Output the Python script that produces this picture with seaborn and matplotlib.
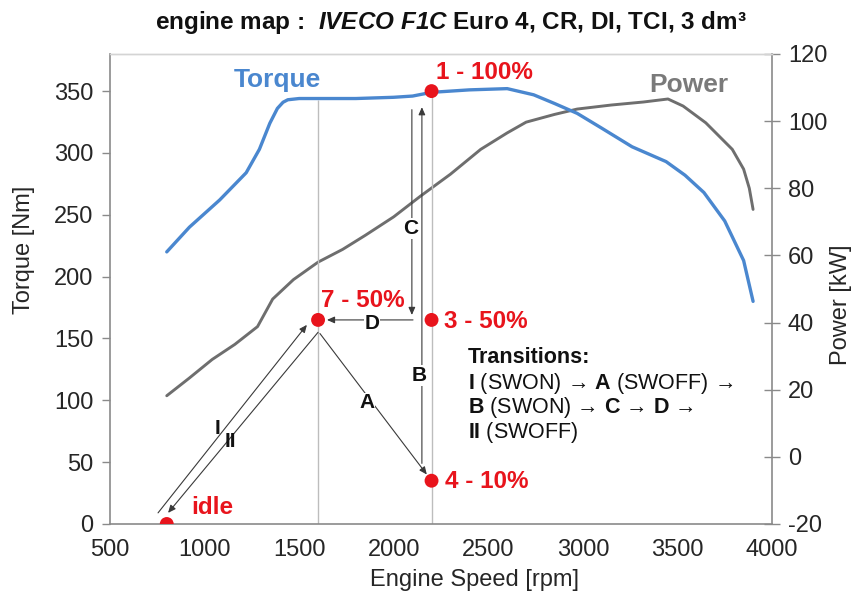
import matplotlib
matplotlib.use("Agg")
import matplotlib.pyplot as plt
import seaborn as sns
import pandas as pd

# ---------------- data ----------------
torque_rpm = [800, 920, 1080, 1220, 1290, 1345, 1385, 1415, 1440, 1500, 1800, 2000, 2100, 2200,
              2400, 2600, 2740, 2850, 2970, 3100, 3260, 3440, 3540, 3640, 3750, 3850, 3900]
torque_nm = [220, 240, 262, 284, 303, 324, 336, 341, 343, 344, 344, 345, 346, 349,
             351, 352, 347, 340, 332, 320, 305, 293, 282, 268, 245, 213, 180]

power_rpm = [800, 920, 1040, 1160, 1280, 1360, 1470, 1600, 1730, 1850, 2000, 2140, 2300, 2460,
             2600, 2700, 2850, 2970, 3150, 3320, 3450, 3530, 3650, 3790, 3850, 3880, 3900]
power_kw = [18.2, 23.5, 29.0, 33.5, 38.8, 47.0, 52.8, 58.0, 61.8, 66.0, 71.5, 77.6, 84.2, 91.6,
            96.5, 99.7, 102.0, 103.6, 104.8, 105.7, 106.6, 104.5, 99.5, 91.6, 85.7, 80.0, 73.7]

point_names = ["idle", "7 - 50%", "3 - 50%", "4 - 10%", "1 - 100%"]
point_rpm = [800, 1600, 2200, 2200, 2200]
point_nm = [0, 165, 165, 35, 350]
# label anchor (rpm, Nm) for each point label
point_label_pos = [(930, 13), (1618, 181), (2268, 164), (2272, 34), (2226, 365)]

# transitions: (label, start(rpm,Nm), end(rpm,Nm), label position)
transitions = [
    ("I",  (754, 9),     (1541, 161), (1066, 77)),
    ("II", (1600, 155),  (807, 9),    (1134, 67)),
    ("A",  (1610, 154),  (2175, 40),  (1858, 98)),
    ("B",  (2149, 49),   (2149, 337), (2133, 120)),
    ("C",  (2096, 335),  (2096, 169), (2090, 239)),
    ("D",  (2102, 165),  (1647, 165), (1884, 162)),
]

ref_lines_rpm = [1600, 2200]
ref_lines_top = [343, 349]

x_ticks = [500, 1000, 1500, 2000, 2500, 3000, 3500, 4000]
y_ticks = [0, 50, 100, 150, 200, 250, 300, 350]
y2_ticks = [-20, 0, 20, 40, 60, 80, 100, 120]

# ---------------- style ----------------
sns.set_style("white")
plt.rcParams["font.family"] = ["Liberation Sans", "DejaVu Sans"]
plt.rcParams["axes.unicode_minus"] = False
plt.rcParams["mathtext.fontset"] = "custom"
plt.rcParams["mathtext.rm"] = "Liberation Sans"
plt.rcParams["mathtext.bf"] = "Liberation Sans:bold"
plt.rcParams["mathtext.it"] = "Liberation Sans:italic"
plt.rcParams["mathtext.bfit"] = "Liberation Sans:italic:bold"

BLUE = "#4a87cf"
GRAY = "#6e6e6e"
RED = "#e8141c"
SPINE = "#8a8a8a"
TXT = "#262626"

fig = plt.figure(figsize=(8.57, 6.0), dpi=100)
ax = fig.add_axes([110 / 857, 1 - 524 / 600, 662 / 857, 470 / 600])
ax2 = ax.twinx()

tq = pd.DataFrame({"rpm": torque_rpm, "torque": torque_nm})
pw = pd.DataFrame({"rpm": power_rpm, "power": power_kw})
pts = pd.DataFrame({"rpm": point_rpm, "torque": point_nm, "name": point_names})

# reference vertical lines
ax.vlines(ref_lines_rpm, 0, ref_lines_top, colors="#bdbdbd", lw=1.0, zorder=1)

sns.lineplot(data=pw, x="rpm", y="power", ax=ax2, color=GRAY, lw=2.1, zorder=2)
sns.lineplot(data=tq, x="rpm", y="torque", ax=ax, color=BLUE, lw=2.4, zorder=3)

# ensure torque axis drawn above power axis
ax.set_zorder(ax2.get_zorder() + 1)
ax.patch.set_visible(False)

# transitions arrows
for lab, s, e, lp in transitions:
    ax.annotate("", xy=e, xytext=s,
                arrowprops=dict(arrowstyle="-|>,head_length=0.45,head_width=0.2",
                                color="#3a3a3a", lw=0.8, shrinkA=0, shrinkB=0),
                zorder=4)
    ax.text(lp[0], lp[1], lab, fontsize=15, fontweight="bold", color="#111111",
            ha="center", va="center", zorder=6,
            bbox=dict(facecolor="white", edgecolor="none", pad=0.5) if lab in ("C", "B", "D", "A") else None)

sns.scatterplot(data=pts, x="rpm", y="torque", ax=ax, color=RED, s=100,
                edgecolor="none", zorder=7, legend=False)
for name, (lx, ly) in zip(point_names, point_label_pos):
    ax.text(lx, ly, name, color=RED, fontsize=17.5, fontweight="bold",
            ha="left", va="center", zorder=8)

# curve labels
ax.text(1383, 359, "Torque", color=BLUE, fontsize=19, fontweight="bold",
        ha="center", va="center")
ax.text(3561, 355, "Power", color="#7a7a7a", fontsize=19, fontweight="bold",
        ha="center", va="center")

# transitions text
tx = 2392
ax.text(tx, 135, "Transitions:", fontsize=15.5, fontweight="bold", color="#111111",
        ha="left", va="center")
ax.text(tx, 114, r"$\mathbf{I}$ (SWON) → $\mathbf{A}$ (SWOFF) →", fontsize=15.5,
        color="#111111", ha="left", va="center")
ax.text(tx, 94, r"$\mathbf{B}$ (SWON) → $\mathbf{C}$ → $\mathbf{D}$ →", fontsize=15.5,
        color="#111111", ha="left", va="center")
ax.text(tx, 74, r"$\mathbf{II}$ (SWOFF)", fontsize=15.5,
        color="#111111", ha="left", va="center")

# axes limits & ticks
ax.set_xlim(500, 4000)
ax.set_ylim(0, 380)
ax2.set_ylim(-20, 120)
ax.set_xticks(x_ticks)
ax.set_yticks(y_ticks)
ax2.set_yticks(y2_ticks)
ax.tick_params(axis="both", labelsize=17, colors=SPINE, labelcolor=TXT,
               length=6, width=1.0, direction="out", pad=5)
ax.tick_params(axis="y", pad=6)
ax2.tick_params(axis="y", labelsize=17, colors=SPINE, labelcolor=TXT,
                length=11, width=1.0, direction="inout", pad=6)

for a in (ax, ax2):
    for side in ("left", "bottom", "right"):
        a.spines[side].set_color(SPINE)
        a.spines[side].set_linewidth(1.2)
    a.spines["top"].set_color("#d4d4d4")
    a.spines["top"].set_linewidth(1.0)
ax.spines["right"].set_visible(False)
ax2.spines["left"].set_visible(False)
ax2.spines["bottom"].set_visible(False)

ax.set_xlabel("Engine Speed [rpm]", fontsize=17, color=TXT)
ax.set_ylabel("Torque [Nm]", fontsize=17, color=TXT)
ax2.set_ylabel("Power [kW]", fontsize=17, color=TXT)
ax.xaxis.set_label_coords(0.551, -0.096)
ax.yaxis.set_label_coords(-0.113, 0.583)
ax2.yaxis.set_label_coords(1.088, 0.466)

fig.text(451 / 857, 1 - 22 / 600,
         r"engine map :  $\mathbfit{IVECO\ F1C}$ Euro 4, CR, DI, TCI, 3 dm³",
         fontsize=17.5, fontweight="bold", color="#111111", ha="center", va="center")

fig.savefig("out.png", dpi=100)
